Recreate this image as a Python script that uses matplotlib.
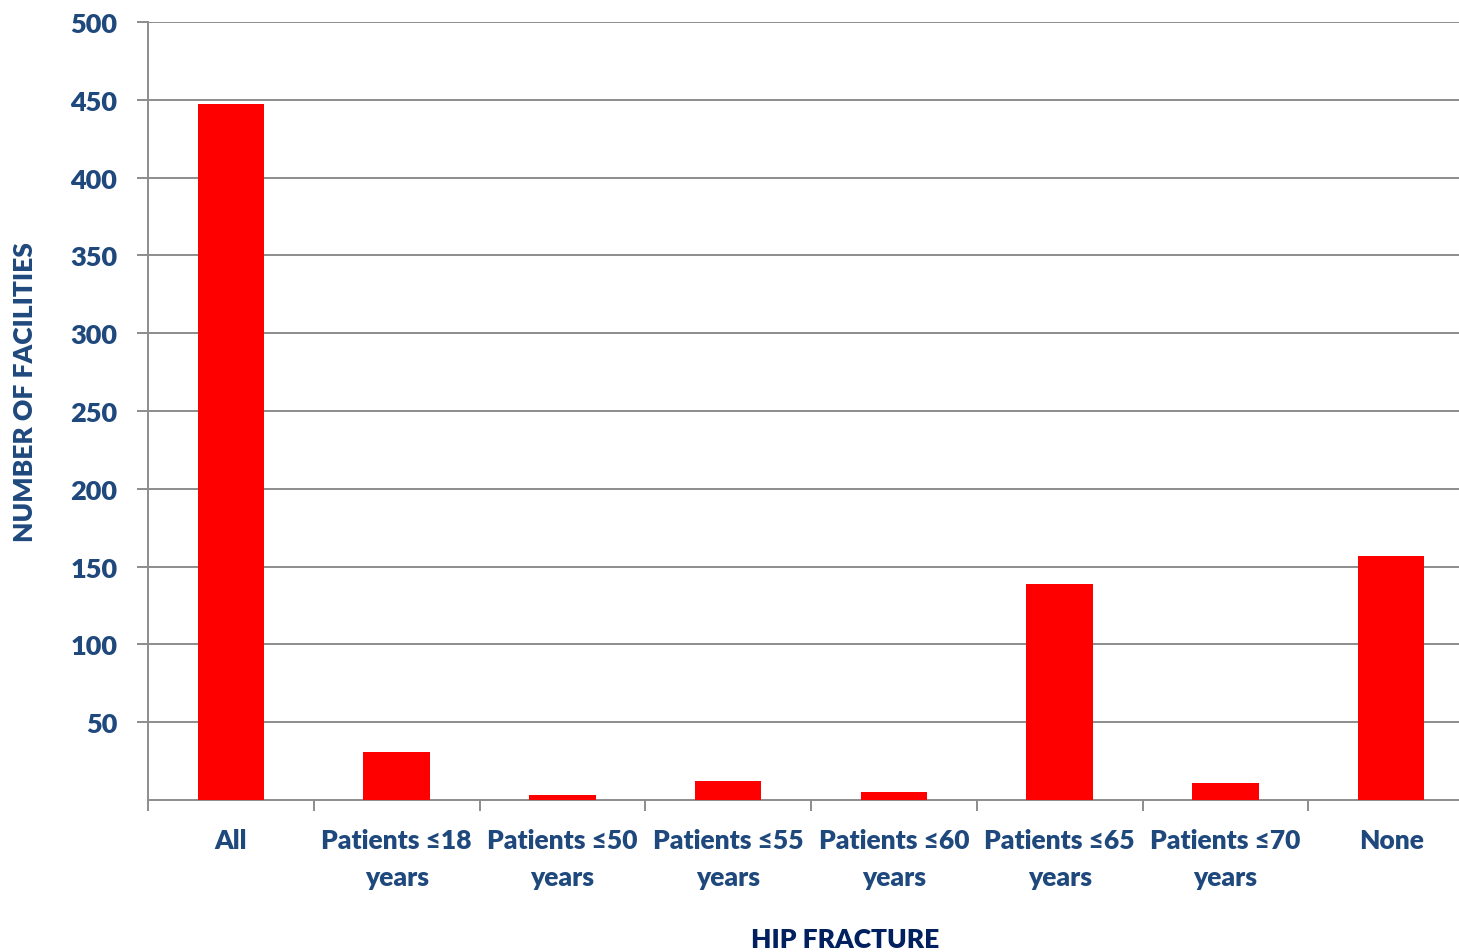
import matplotlib.pyplot as plt
import numpy as np

categories = ['All', 'Patients ≤18\nyears', 'Patients ≤50\nyears', 'Patients ≤55\nyears',
              'Patients ≤60\nyears', 'Patients ≤65\nyears', 'Patients ≤70\nyears', 'None']
facilities = [447, 31, 3, 12, 5, 139, 11, 157]
yticks = [50, 100, 150, 200, 250, 300, 350, 400, 450, 500]

plt.rcParams['font.family'] = ['Lato', 'DejaVu Sans']
plt.rcParams['font.weight'] = 'heavy'

tick_color = '#1F497D'
grid_color = '#8C8C8C'
fw = 'heavy'

fig = plt.figure(figsize=(14.59, 9.53), dpi=100)
# axes runs a little past the right edge, like the cropped original
ax = fig.add_axes([148 / 1459, 1 - 801 / 953, (1474 - 148) / 1459, (801 - 23) / 953])

x = np.arange(len(categories))
ax.bar(x, facilities, width=0.4, color='#FF0000', zorder=3)

ax.set_xlim(-0.5, len(categories) - 0.5)
ax.set_ylim(0, 500)
ax.set_yticks(yticks)
ax.set_yticklabels([str(v) for v in yticks], fontsize=19.5, color=tick_color, fontweight=fw)
ax.yaxis.grid(True, color=grid_color, linewidth=1.4, zorder=0)
ax.tick_params(axis='y', length=8, width=1.4, color=grid_color, pad=14)

# category labels centred, tick marks on boundaries
ax.set_xticks(x)
ax.set_xticklabels(categories, fontsize=19, color=tick_color, fontweight=fw, linespacing=1.65)
ax.tick_params(axis='x', which='major', length=0, pad=20)
ax.set_xticks(np.arange(len(categories) + 1) - 0.5, minor=True)
ax.tick_params(axis='x', which='minor', length=8, width=1.4, color=grid_color)

for s in ['top', 'right']:
    ax.spines[s].set_visible(False)
for s in ['left', 'bottom']:
    ax.spines[s].set_color(grid_color)
    ax.spines[s].set_linewidth(1.4)

fig.text(25 / 1459, 1 - 392 / 953, 'NUMBER OF FACILITIES', rotation=90, ha='center', va='center',
         fontsize=19, color='#1F497D', fontweight=fw)
fig.text(845 / 1459, 1 - 940 / 953, 'HIP FRACTURE', ha='center', va='center',
         fontsize=19, color='#002060', fontweight=fw)

fig.savefig('out.png', dpi=100)
